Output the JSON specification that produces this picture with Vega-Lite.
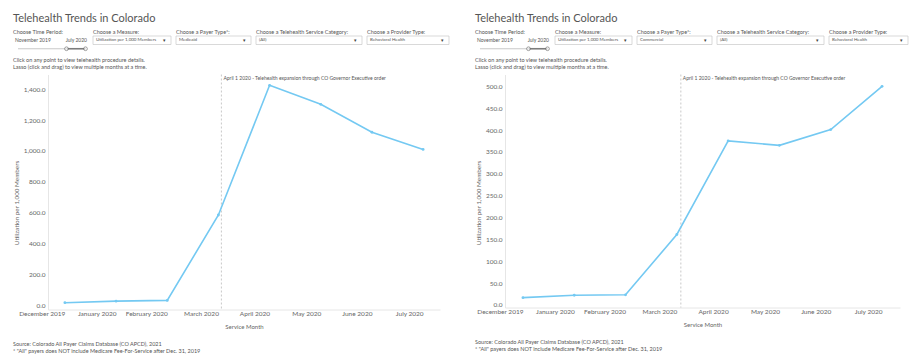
{
  "$schema": "https://vega.github.io/schema/vega-lite/v6.json",
  "padding": {"left": 13, "top": 12.5, "right": 3, "bottom": 3},
  "background": "white",
  "spacing": 25,
  "config": {
    "font": "Lato",
    "view": {"stroke": null},
    "axis": {"labelColor": "#666", "titleColor": "#666", "labelFont": "Lato", "titleFont": "Lato", "labelOverlap": false},
    "title": {"font": "Lato", "fontWeight": "normal", "color": "#555"}
  },
  "datasets": {
    "medicaid": [
      {"month": "December 2019", "value": 17},
      {"month": "January 2020", "value": 27},
      {"month": "February 2020", "value": 32},
      {"month": "March 2020", "value": 585},
      {"month": "April 2020", "value": 1425},
      {"month": "May 2020", "value": 1302},
      {"month": "June 2020", "value": 1121},
      {"month": "July 2020", "value": 1010}
    ],
    "commercial": [
      {"month": "December 2019", "value": 16.5},
      {"month": "January 2020", "value": 22},
      {"month": "February 2020", "value": 23},
      {"month": "March 2020", "value": 161},
      {"month": "April 2020", "value": 375},
      {"month": "May 2020", "value": 365},
      {"month": "June 2020", "value": 401},
      {"month": "July 2020", "value": 500}
    ],
    "note": [
      {"month": "March 2020", "label": "April 1 2020 - Telehealth expansion through CO Governor Executive order"}
    ],
    "controlsMedicaid": [
      {"control": "Choose Time Period:", "value": "November 2019", "value2": "July 2020"},
      {"control": "Choose a Measure:", "value": "Utilization per 1,000 Members"},
      {"control": "Choose a Payer Type*:", "value": "Medicaid"},
      {"control": "Choose a Telehealth Service Category:", "value": "(All)"},
      {"control": "Choose a Provider Type:", "value": "Behavioral Health"}
    ],
    "controlsCommercial": [
      {"control": "Choose Time Period:", "value": "November 2019", "value2": "July 2020"},
      {"control": "Choose a Measure:", "value": "Utilization per 1,000 Members"},
      {"control": "Choose a Payer Type*:", "value": "Commercial"},
      {"control": "Choose a Telehealth Service Category:", "value": "(All)"},
      {"control": "Choose a Provider Type:", "value": "Behavioral Health"}
    ]
  },
  "hconcat": [
    {
      "spacing": 4,
      "title": {"text": ["Source: Colorado All Payer Claims Database (CO APCD), 2021", "* \"All\" payers does NOT include Medicare Fee-For-Service after Dec. 31, 2019"], "orient": "bottom", "anchor": "start", "fontSize": 5.5, "lineHeight": 7, "color": "#555", "offset": 13},
      "vconcat": [
        {
          "spacing": 3,
          "title": {"text": "Telehealth Trends in Colorado", "anchor": "start", "fontSize": 11, "color": "#555", "offset": 4},
          "hconcat": [
            {
              "width": 75, "height": 25.5,
              "data": {"name": "controlsMedicaid"},
              "transform": [{"filter": "datum.control === 'Choose Time Period:'"}],
              "encoding": {"x": {"field": "control", "type": "nominal", "scale": {"type": "band", "paddingInner": 0, "paddingOuter": 0}, "axis": null}},
              "layer": [
                {"mark": {"type": "text", "align": "left", "baseline": "middle", "fontSize": 5.5, "color": "#555"},
                 "encoding": {"x": {"field": "control", "type": "nominal", "bandPosition": 0, "axis": null}, "y": {"datum": "label", "type": "nominal", "scale": {"type": "band", "domain": ["label", "value", "slider"], "paddingInner": 0, "paddingOuter": 0}, "axis": null}, "text": {"field": "control"}}},
                {"mark": {"type": "text", "align": "left", "baseline": "middle", "fontSize": 5, "color": "#555", "dx": 2},
                 "encoding": {"x": {"field": "control", "type": "nominal", "bandPosition": 0, "axis": null}, "y": {"datum": "value", "type": "nominal", "axis": null}, "text": {"field": "value"}}},
                {"mark": {"type": "text", "align": "right", "baseline": "middle", "fontSize": 5, "color": "#555", "dx": -1},
                 "encoding": {"x": {"field": "control", "type": "nominal", "bandPosition": 1, "axis": null}, "y": {"datum": "value", "type": "nominal", "axis": null}, "text": {"field": "value2"}}},
                {"mark": {"type": "tick", "orient": "horizontal", "size": 68, "thickness": 0.8, "color": "#b0b0b0", "xOffset": 1.5},
                 "encoding": {"x": {"field": "control", "type": "nominal", "bandPosition": 0.5, "axis": null}, "y": {"datum": "slider", "type": "nominal", "axis": null}}},
                {"mark": {"type": "tick", "orient": "horizontal", "size": 19, "thickness": 1.6, "color": "#555", "xOffset": 25.5},
                 "encoding": {"x": {"field": "control", "type": "nominal", "bandPosition": 0.5, "axis": null}, "y": {"datum": "slider", "type": "nominal", "axis": null}}},
                {"mark": {"type": "point", "shape": "circle", "size": 14, "filled": true, "fill": "white", "stroke": "#555", "strokeWidth": 0.8, "xOffset": 16},
                 "encoding": {"x": {"field": "control", "type": "nominal", "bandPosition": 0.5, "axis": null}, "y": {"datum": "slider", "type": "nominal", "axis": null}}},
                {"mark": {"type": "point", "shape": "circle", "size": 14, "filled": true, "fill": "white", "stroke": "#555", "strokeWidth": 0.8, "xOffset": 35},
                 "encoding": {"x": {"field": "control", "type": "nominal", "bandPosition": 0.5, "axis": null}, "y": {"datum": "slider", "type": "nominal", "axis": null}}}
              ]
            },
            {
              "width": 78, "height": 25.5,
              "data": {"name": "controlsMedicaid"},
              "transform": [{"filter": "datum.control === 'Choose a Measure:'"}],
              "encoding": {"x": {"field": "control", "type": "nominal", "scale": {"type": "band", "paddingInner": 0, "paddingOuter": 0}, "axis": null}},
              "layer": [
                {"mark": {"type": "text", "align": "left", "baseline": "middle", "fontSize": 5.5, "color": "#555"},
                 "encoding": {"x": {"field": "control", "type": "nominal", "bandPosition": 0, "axis": null}, "y": {"datum": "label", "type": "nominal", "scale": {"type": "band", "domain": ["label", "value", "slider"], "paddingInner": 0, "paddingOuter": 0}, "axis": null}, "text": {"field": "control"}}},
                {"mark": {"type": "rect", "fill": "white", "stroke": "#c8c8c8", "strokeWidth": 0.7},
                 "encoding": {"y": {"datum": "value", "type": "nominal", "axis": null}}},
                {"mark": {"type": "text", "align": "left", "baseline": "middle", "fontSize": 4.5, "color": "#555", "dx": 3},
                 "encoding": {"x": {"field": "control", "type": "nominal", "bandPosition": 0, "axis": null}, "y": {"datum": "value", "type": "nominal", "axis": null}, "text": {"field": "value"}}},
                {"mark": {"type": "text", "align": "right", "baseline": "middle", "fontSize": 5, "color": "#444", "dx": -5, "text": "▾"},
                 "encoding": {"x": {"field": "control", "type": "nominal", "bandPosition": 1, "axis": null}, "y": {"datum": "value", "type": "nominal", "axis": null}}}
              ]
            },
            {
              "width": 75, "height": 25.5,
              "data": {"name": "controlsMedicaid"},
              "transform": [{"filter": "datum.control === 'Choose a Payer Type*:'"}],
              "encoding": {"x": {"field": "control", "type": "nominal", "scale": {"type": "band", "paddingInner": 0, "paddingOuter": 0}, "axis": null}},
              "layer": [
                {"mark": {"type": "text", "align": "left", "baseline": "middle", "fontSize": 5.5, "color": "#555"},
                 "encoding": {"x": {"field": "control", "type": "nominal", "bandPosition": 0, "axis": null}, "y": {"datum": "label", "type": "nominal", "scale": {"type": "band", "domain": ["label", "value", "slider"], "paddingInner": 0, "paddingOuter": 0}, "axis": null}, "text": {"field": "control"}}},
                {"mark": {"type": "rect", "fill": "white", "stroke": "#c8c8c8", "strokeWidth": 0.7},
                 "encoding": {"y": {"datum": "value", "type": "nominal", "axis": null}}},
                {"mark": {"type": "text", "align": "left", "baseline": "middle", "fontSize": 4.5, "color": "#555", "dx": 3},
                 "encoding": {"x": {"field": "control", "type": "nominal", "bandPosition": 0, "axis": null}, "y": {"datum": "value", "type": "nominal", "axis": null}, "text": {"field": "value"}}},
                {"mark": {"type": "text", "align": "right", "baseline": "middle", "fontSize": 5, "color": "#444", "dx": -5, "text": "▾"},
                 "encoding": {"x": {"field": "control", "type": "nominal", "bandPosition": 1, "axis": null}, "y": {"datum": "value", "type": "nominal", "axis": null}}}
              ]
            },
            {
              "width": 106, "height": 25.5,
              "data": {"name": "controlsMedicaid"},
              "transform": [{"filter": "datum.control === 'Choose a Telehealth Service Category:'"}],
              "encoding": {"x": {"field": "control", "type": "nominal", "scale": {"type": "band", "paddingInner": 0, "paddingOuter": 0}, "axis": null}},
              "layer": [
                {"mark": {"type": "text", "align": "left", "baseline": "middle", "fontSize": 5.5, "color": "#555"},
                 "encoding": {"x": {"field": "control", "type": "nominal", "bandPosition": 0, "axis": null}, "y": {"datum": "label", "type": "nominal", "scale": {"type": "band", "domain": ["label", "value", "slider"], "paddingInner": 0, "paddingOuter": 0}, "axis": null}, "text": {"field": "control"}}},
                {"mark": {"type": "rect", "fill": "white", "stroke": "#c8c8c8", "strokeWidth": 0.7},
                 "encoding": {"y": {"datum": "value", "type": "nominal", "axis": null}}},
                {"mark": {"type": "text", "align": "left", "baseline": "middle", "fontSize": 4.5, "color": "#555", "dx": 3},
                 "encoding": {"x": {"field": "control", "type": "nominal", "bandPosition": 0, "axis": null}, "y": {"datum": "value", "type": "nominal", "axis": null}, "text": {"field": "value"}}},
                {"mark": {"type": "text", "align": "right", "baseline": "middle", "fontSize": 5, "color": "#444", "dx": -5, "text": "▾"},
                 "encoding": {"x": {"field": "control", "type": "nominal", "bandPosition": 1, "axis": null}, "y": {"datum": "value", "type": "nominal", "axis": null}}}
              ]
            },
            {
              "width": 82, "height": 25.5,
              "data": {"name": "controlsMedicaid"},
              "transform": [{"filter": "datum.control === 'Choose a Provider Type:'"}],
              "encoding": {"x": {"field": "control", "type": "nominal", "scale": {"type": "band", "paddingInner": 0, "paddingOuter": 0}, "axis": null}},
              "layer": [
                {"mark": {"type": "text", "align": "left", "baseline": "middle", "fontSize": 5.5, "color": "#555"},
                 "encoding": {"x": {"field": "control", "type": "nominal", "bandPosition": 0, "axis": null}, "y": {"datum": "label", "type": "nominal", "scale": {"type": "band", "domain": ["label", "value", "slider"], "paddingInner": 0, "paddingOuter": 0}, "axis": null}, "text": {"field": "control"}}},
                {"mark": {"type": "rect", "fill": "white", "stroke": "#c8c8c8", "strokeWidth": 0.7},
                 "encoding": {"y": {"datum": "value", "type": "nominal", "axis": null}}},
                {"mark": {"type": "text", "align": "left", "baseline": "middle", "fontSize": 4.5, "color": "#555", "dx": 3},
                 "encoding": {"x": {"field": "control", "type": "nominal", "bandPosition": 0, "axis": null}, "y": {"datum": "value", "type": "nominal", "axis": null}, "text": {"field": "value"}}},
                {"mark": {"type": "text", "align": "right", "baseline": "middle", "fontSize": 5, "color": "#444", "dx": -5, "text": "▾"},
                 "encoding": {"x": {"field": "control", "type": "nominal", "bandPosition": 1, "axis": null}, "y": {"datum": "value", "type": "nominal", "axis": null}}}
              ]
            }
          ]
        },
        {
          "width": 427, "height": 235,
          "title": {"text": ["Click on any point to view telehealth procedure details.", "Lasso (click and drag) to view multiple months at a time."], "anchor": "start", "frame": "bounds", "fontSize": 5.5, "lineHeight": 6.5, "color": "#555", "offset": 4},
          "layer": [
            {"data": {"name": "note"},
             "mark": {"type": "rule", "strokeDash": [2, 2], "color": "#bbbbbb", "strokeWidth": 0.8, "xOffset": 3},
             "encoding": {"x": {"field": "month", "type": "ordinal"}}},
            {"data": {"name": "note"},
             "mark": {"type": "text", "align": "left", "baseline": "top", "fontSize": 5, "color": "#555", "dx": 5, "dy": 1},
             "encoding": {"x": {"field": "month", "type": "ordinal"}, "y": {"datum": 1495, "type": "quantitative"}, "text": {"field": "label"}}},
            {"data": {"name": "medicaid"},
             "mark": {"type": "line", "color": "#74c9f2", "strokeWidth": 1.6, "point": {"filled": true, "size": 8, "color": "#74c9f2"}},
             "encoding": {
               "x": {"field": "month", "type": "ordinal", "sort": null,
                     "scale": {"type": "point", "padding": 0.33, "range": [35, 427], "domain": ["December 2019", "January 2020", "February 2020", "March 2020", "April 2020", "May 2020", "June 2020", "July 2020"]},
                     "axis": {"title": "Service Month", "labelAngle": 0, "labelFontSize": 6.5, "ticks": false, "domainColor": "#e6e6e6", "labelPadding": 4, "labelOverlap": false, "titleFontSize": 6, "titleFontWeight": "normal", "titlePadding": 6}},
               "y": {"field": "value", "type": "quantitative",
                     "scale": {"domain": [-27, 1495], "nice": false, "zero": false},
                     "axis": {"title": "Utilization per 1,000 Members", "values": [0, 200, 400, 600, 800, 1000, 1200, 1400], "tickCount": 30, "offset": -35, "format": ",.1f", "labelFontSize": 6.5, "labelOverlap": false, "ticks": false, "domainColor": "#e6e6e6", "gridColor": "#efefef", "labelPadding": 3, "titleFontSize": 6.3, "titleFontWeight": "normal", "titlePadding": 4, "titleY": 128}}
             }}
          ]
        }
      ]
    },
    {
      "spacing": 4,
      "title": {"text": ["Source: Colorado All Payer Claims Database (CO APCD), 2021", "* \"All\" payers does NOT include Medicare Fee-For-Service after Dec. 31, 2019"], "orient": "bottom", "anchor": "start", "fontSize": 5.5, "lineHeight": 7, "color": "#555", "offset": 13},
      "vconcat": [
        {
          "spacing": 3,
          "title": {"text": "Telehealth Trends in Colorado", "anchor": "start", "fontSize": 11, "color": "#555", "offset": 4},
          "hconcat": [
            {
              "width": 75, "height": 25.5,
              "data": {"name": "controlsCommercial"},
              "transform": [{"filter": "datum.control === 'Choose Time Period:'"}],
              "encoding": {"x": {"field": "control", "type": "nominal", "scale": {"type": "band", "paddingInner": 0, "paddingOuter": 0}, "axis": null}},
              "layer": [
                {"mark": {"type": "text", "align": "left", "baseline": "middle", "fontSize": 5.5, "color": "#555"},
                 "encoding": {"x": {"field": "control", "type": "nominal", "bandPosition": 0, "axis": null}, "y": {"datum": "label", "type": "nominal", "scale": {"type": "band", "domain": ["label", "value", "slider"], "paddingInner": 0, "paddingOuter": 0}, "axis": null}, "text": {"field": "control"}}},
                {"mark": {"type": "text", "align": "left", "baseline": "middle", "fontSize": 5, "color": "#555", "dx": 2},
                 "encoding": {"x": {"field": "control", "type": "nominal", "bandPosition": 0, "axis": null}, "y": {"datum": "value", "type": "nominal", "axis": null}, "text": {"field": "value"}}},
                {"mark": {"type": "text", "align": "right", "baseline": "middle", "fontSize": 5, "color": "#555", "dx": -1},
                 "encoding": {"x": {"field": "control", "type": "nominal", "bandPosition": 1, "axis": null}, "y": {"datum": "value", "type": "nominal", "axis": null}, "text": {"field": "value2"}}},
                {"mark": {"type": "tick", "orient": "horizontal", "size": 68, "thickness": 0.8, "color": "#b0b0b0", "xOffset": 1.5},
                 "encoding": {"x": {"field": "control", "type": "nominal", "bandPosition": 0.5, "axis": null}, "y": {"datum": "slider", "type": "nominal", "axis": null}}},
                {"mark": {"type": "tick", "orient": "horizontal", "size": 19, "thickness": 1.6, "color": "#555", "xOffset": 25.5},
                 "encoding": {"x": {"field": "control", "type": "nominal", "bandPosition": 0.5, "axis": null}, "y": {"datum": "slider", "type": "nominal", "axis": null}}},
                {"mark": {"type": "point", "shape": "circle", "size": 14, "filled": true, "fill": "white", "stroke": "#555", "strokeWidth": 0.8, "xOffset": 16},
                 "encoding": {"x": {"field": "control", "type": "nominal", "bandPosition": 0.5, "axis": null}, "y": {"datum": "slider", "type": "nominal", "axis": null}}},
                {"mark": {"type": "point", "shape": "circle", "size": 14, "filled": true, "fill": "white", "stroke": "#555", "strokeWidth": 0.8, "xOffset": 35},
                 "encoding": {"x": {"field": "control", "type": "nominal", "bandPosition": 0.5, "axis": null}, "y": {"datum": "slider", "type": "nominal", "axis": null}}}
              ]
            },
            {
              "width": 77, "height": 25.5,
              "data": {"name": "controlsCommercial"},
              "transform": [{"filter": "datum.control === 'Choose a Measure:'"}],
              "encoding": {"x": {"field": "control", "type": "nominal", "scale": {"type": "band", "paddingInner": 0, "paddingOuter": 0}, "axis": null}},
              "layer": [
                {"mark": {"type": "text", "align": "left", "baseline": "middle", "fontSize": 5.5, "color": "#555"},
                 "encoding": {"x": {"field": "control", "type": "nominal", "bandPosition": 0, "axis": null}, "y": {"datum": "label", "type": "nominal", "scale": {"type": "band", "domain": ["label", "value", "slider"], "paddingInner": 0, "paddingOuter": 0}, "axis": null}, "text": {"field": "control"}}},
                {"mark": {"type": "rect", "fill": "white", "stroke": "#c8c8c8", "strokeWidth": 0.7},
                 "encoding": {"y": {"datum": "value", "type": "nominal", "axis": null}}},
                {"mark": {"type": "text", "align": "left", "baseline": "middle", "fontSize": 4.5, "color": "#555", "dx": 3},
                 "encoding": {"x": {"field": "control", "type": "nominal", "bandPosition": 0, "axis": null}, "y": {"datum": "value", "type": "nominal", "axis": null}, "text": {"field": "value"}}},
                {"mark": {"type": "text", "align": "right", "baseline": "middle", "fontSize": 5, "color": "#444", "dx": -5, "text": "▾"},
                 "encoding": {"x": {"field": "control", "type": "nominal", "bandPosition": 1, "axis": null}, "y": {"datum": "value", "type": "nominal", "axis": null}}}
              ]
            },
            {
              "width": 75, "height": 25.5,
              "data": {"name": "controlsCommercial"},
              "transform": [{"filter": "datum.control === 'Choose a Payer Type*:'"}],
              "encoding": {"x": {"field": "control", "type": "nominal", "scale": {"type": "band", "paddingInner": 0, "paddingOuter": 0}, "axis": null}},
              "layer": [
                {"mark": {"type": "text", "align": "left", "baseline": "middle", "fontSize": 5.5, "color": "#555"},
                 "encoding": {"x": {"field": "control", "type": "nominal", "bandPosition": 0, "axis": null}, "y": {"datum": "label", "type": "nominal", "scale": {"type": "band", "domain": ["label", "value", "slider"], "paddingInner": 0, "paddingOuter": 0}, "axis": null}, "text": {"field": "control"}}},
                {"mark": {"type": "rect", "fill": "white", "stroke": "#c8c8c8", "strokeWidth": 0.7},
                 "encoding": {"y": {"datum": "value", "type": "nominal", "axis": null}}},
                {"mark": {"type": "text", "align": "left", "baseline": "middle", "fontSize": 4.5, "color": "#555", "dx": 3},
                 "encoding": {"x": {"field": "control", "type": "nominal", "bandPosition": 0, "axis": null}, "y": {"datum": "value", "type": "nominal", "axis": null}, "text": {"field": "value"}}},
                {"mark": {"type": "text", "align": "right", "baseline": "middle", "fontSize": 5, "color": "#444", "dx": -5, "text": "▾"},
                 "encoding": {"x": {"field": "control", "type": "nominal", "bandPosition": 1, "axis": null}, "y": {"datum": "value", "type": "nominal", "axis": null}}}
              ]
            },
            {
              "width": 107, "height": 25.5,
              "data": {"name": "controlsCommercial"},
              "transform": [{"filter": "datum.control === 'Choose a Telehealth Service Category:'"}],
              "encoding": {"x": {"field": "control", "type": "nominal", "scale": {"type": "band", "paddingInner": 0, "paddingOuter": 0}, "axis": null}},
              "layer": [
                {"mark": {"type": "text", "align": "left", "baseline": "middle", "fontSize": 5.5, "color": "#555"},
                 "encoding": {"x": {"field": "control", "type": "nominal", "bandPosition": 0, "axis": null}, "y": {"datum": "label", "type": "nominal", "scale": {"type": "band", "domain": ["label", "value", "slider"], "paddingInner": 0, "paddingOuter": 0}, "axis": null}, "text": {"field": "control"}}},
                {"mark": {"type": "rect", "fill": "white", "stroke": "#c8c8c8", "strokeWidth": 0.7},
                 "encoding": {"y": {"datum": "value", "type": "nominal", "axis": null}}},
                {"mark": {"type": "text", "align": "left", "baseline": "middle", "fontSize": 4.5, "color": "#555", "dx": 3},
                 "encoding": {"x": {"field": "control", "type": "nominal", "bandPosition": 0, "axis": null}, "y": {"datum": "value", "type": "nominal", "axis": null}, "text": {"field": "value"}}},
                {"mark": {"type": "text", "align": "right", "baseline": "middle", "fontSize": 5, "color": "#444", "dx": -5, "text": "▾"},
                 "encoding": {"x": {"field": "control", "type": "nominal", "bandPosition": 1, "axis": null}, "y": {"datum": "value", "type": "nominal", "axis": null}}}
              ]
            },
            {
              "width": 79, "height": 25.5,
              "data": {"name": "controlsCommercial"},
              "transform": [{"filter": "datum.control === 'Choose a Provider Type:'"}],
              "encoding": {"x": {"field": "control", "type": "nominal", "scale": {"type": "band", "paddingInner": 0, "paddingOuter": 0}, "axis": null}},
              "layer": [
                {"mark": {"type": "text", "align": "left", "baseline": "middle", "fontSize": 5.5, "color": "#555"},
                 "encoding": {"x": {"field": "control", "type": "nominal", "bandPosition": 0, "axis": null}, "y": {"datum": "label", "type": "nominal", "scale": {"type": "band", "domain": ["label", "value", "slider"], "paddingInner": 0, "paddingOuter": 0}, "axis": null}, "text": {"field": "control"}}},
                {"mark": {"type": "rect", "fill": "white", "stroke": "#c8c8c8", "strokeWidth": 0.7},
                 "encoding": {"y": {"datum": "value", "type": "nominal", "axis": null}}},
                {"mark": {"type": "text", "align": "left", "baseline": "middle", "fontSize": 4.5, "color": "#555", "dx": 3},
                 "encoding": {"x": {"field": "control", "type": "nominal", "bandPosition": 0, "axis": null}, "y": {"datum": "value", "type": "nominal", "axis": null}, "text": {"field": "value"}}},
                {"mark": {"type": "text", "align": "right", "baseline": "middle", "fontSize": 5, "color": "#444", "dx": -5, "text": "▾"},
                 "encoding": {"x": {"field": "control", "type": "nominal", "bandPosition": 1, "axis": null}, "y": {"datum": "value", "type": "nominal", "axis": null}}}
              ]
            }
          ]
        },
        {
          "width": 425, "height": 233,
          "title": {"text": ["Click on any point to view telehealth procedure details.", "Lasso (click and drag) to view multiple months at a time."], "anchor": "start", "frame": "bounds", "fontSize": 5.5, "lineHeight": 6.5, "color": "#555", "offset": 4},
          "layer": [
            {"data": {"name": "note"},
             "mark": {"type": "rule", "strokeDash": [2, 2], "color": "#bbbbbb", "strokeWidth": 0.8, "xOffset": 4},
             "encoding": {"x": {"field": "month", "type": "ordinal"}}},
            {"data": {"name": "note"},
             "mark": {"type": "text", "align": "left", "baseline": "top", "fontSize": 5, "color": "#555", "dx": 6, "dy": 1},
             "encoding": {"x": {"field": "month", "type": "ordinal"}, "y": {"datum": 527, "type": "quantitative"}, "text": {"field": "label"}}},
            {"data": {"name": "commercial"},
             "mark": {"type": "line", "color": "#74c9f2", "strokeWidth": 1.6, "point": {"filled": true, "size": 8, "color": "#74c9f2"}},
             "encoding": {
               "x": {"field": "month", "type": "ordinal", "sort": null,
                     "scale": {"type": "point", "padding": 0.35, "range": [30, 425], "domain": ["December 2019", "January 2020", "February 2020", "March 2020", "April 2020", "May 2020", "June 2020", "July 2020"]},
                     "axis": {"title": "Service Month", "labelAngle": 0, "labelFontSize": 6.5, "ticks": false, "domainColor": "#e6e6e6", "labelPadding": 4, "labelOverlap": false, "titleFontSize": 6, "titleFontWeight": "normal", "titlePadding": 6}},
               "y": {"field": "value", "type": "quantitative",
                     "scale": {"domain": [-6, 527], "nice": false, "zero": false},
                     "axis": {"title": "Utilization per 1,000 Members", "values": [0, 50, 100, 150, 200, 250, 300, 350, 400, 450, 500], "tickCount": 30, "offset": -30, "format": ",.1f", "labelFontSize": 6.5, "labelOverlap": false, "ticks": false, "domainColor": "#e6e6e6", "gridColor": "#efefef", "labelPadding": 3, "titleFontSize": 6.3, "titleFontWeight": "normal", "titlePadding": 4, "titleY": 128}}
             }}
          ]
        }
      ]
    }
  ]
}
